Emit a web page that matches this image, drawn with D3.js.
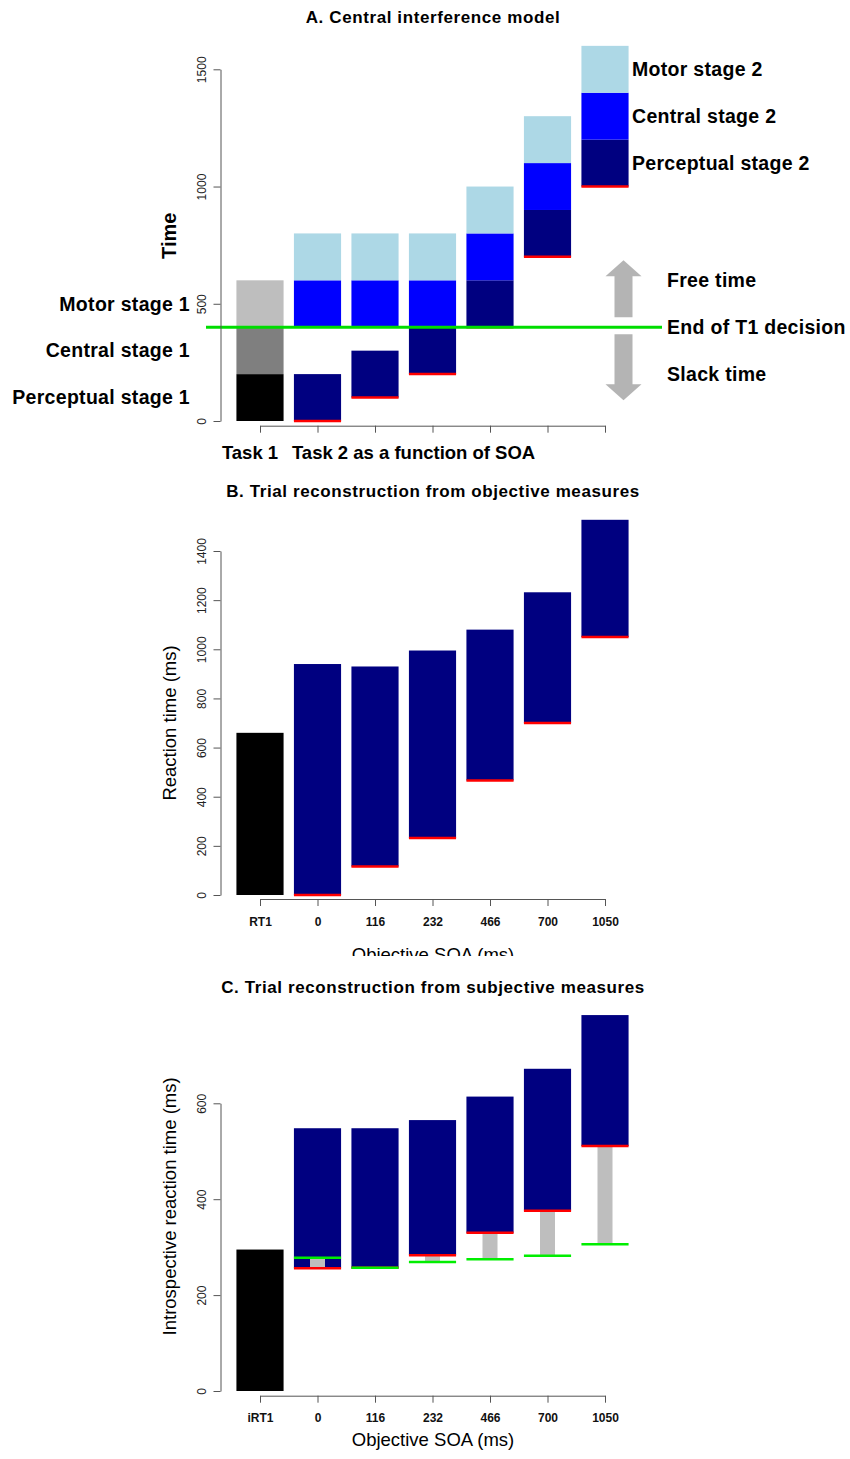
<!DOCTYPE html>
<html>
<head>
<meta charset="utf-8">
<script src="https://cdn.jsdelivr.net/npm/d3@7"></script>
<style>
  body { margin: 0; background: #fff; }
  svg { display: block; font-family: "Liberation Sans", Arial, sans-serif; }
</style>
</head>
<body>
<svg id="fig" width="850" height="1459"></svg>
<script>
// ---- Panel A: central interference model (stage boundaries, ms) ----
const catsA = ["Task 1", "A0", "A100", "A200", "A400", "A700", "A1000"];
const task1Bounds = [0, 200, 400, 600];            // perceptual | central | motor
const task1Colors = ["#000000", "#7f7f7f", "#bebebe"];
const task2Onset = [0, 100, 200, 400, 700, 1000];
const perc2End = [200, 300, 400, 600, 900, 1200];
const central2Start = [400, 400, 400, 600, 900, 1200];
const central2End = [600, 600, 600, 800, 1100, 1400];
const motor2End = [800, 800, 800, 1000, 1300, 1600];
const t1Decision = 400;
const ticksA = [0, 500, 1000, 1500];

// ---- Panel B: objective measures ----
const catsB = ["RT1", "0", "116", "232", "466", "700", "1050"];
const rt1 = 660;
const rt2Start = [0, 116, 232, 466, 700, 1050];
const rt2End = [940, 930, 995, 1080, 1232, 1527];
const ticksB = [0, 200, 400, 600, 800, 1000, 1200, 1400];

// ---- Panel C: subjective measures ----
const catsC = ["iRT1", "0", "116", "232", "466", "700", "1050"];
const irt1 = 295;
const irt2Start = [256, 257, 283, 330, 376, 511];
const irt2End = [548, 548, 565, 614, 672, 784];
const irt1Mark = [278, 257, 269, 275, 282, 306];
const ticksC = [0, 200, 400, 600];

const svg = d3.select("#fig");
const axisX = 220.5;
const axisColor = "#555";
const labelFont = "19.5px";

function bandScale(cats) {
    return d3.scaleBand().domain(cats).range([231.25, 633.75])
        .paddingInner(0.18).paddingOuter(0.09);
}

function drawAxes(x, y, ticks, axisBottomY) {
    const yAxis = svg.append("g")
        .attr("transform", `translate(${axisX},0)`)
        .call(d3.axisLeft(y).tickValues(ticks).tickFormat(d3.format("d"))
            .tickSize(7).tickSizeOuter(0));
    yAxis.select(".domain").attr("stroke", axisColor);
    yAxis.selectAll(".tick line").attr("stroke", axisColor);
    yAxis.selectAll("text")
        .attr("transform", "rotate(-90)")
        .attr("x", 0).attr("y", -15).attr("dy", 0)
        .attr("text-anchor", "middle")
        .style("font-size", "12px").style("fill", "#222");

    const pts = d3.scalePoint().domain(x.domain())
        .range([x(x.domain()[0]) + x.bandwidth() / 2,
                x(x.domain()[x.domain().length - 1]) + x.bandwidth() / 2]);
    const xAxis = svg.append("g")
        .attr("transform", `translate(0,${axisBottomY})`)
        .call(d3.axisBottom(pts).tickSize(7).tickSizeOuter(0));
    xAxis.select(".domain").attr("stroke", axisColor);
    xAxis.selectAll(".tick line").attr("stroke", axisColor);
    return xAxis;
}

function title(txt, yPos) {
    svg.append("text").attr("x", 433).attr("y", yPos)
        .attr("text-anchor", "middle")
        .style("font-size", "17px").style("font-weight", "bold")
        .style("letter-spacing", "0.6px")
        .text(txt);
}

function yLabel(txt, cy, bold, size) {
    svg.append("text")
        .attr("transform", `translate(176,${cy}) rotate(-90)`)
        .attr("text-anchor", "middle")
        .style("font-size", size).style("font-weight", bold ? "bold" : "normal")
        .text(txt);
}

// =================== Panel A ===================
const xA = bandScale(catsA);
const yA = d3.scaleLinear().domain([0, 1500]).range([421, 69.3]);
const bwA = xA.bandwidth();

title("A. Central interference model", 23);

// task 1 stages
svg.append("g").selectAll("rect")
    .data(d3.range(3)).join("rect")
    .attr("x", xA("Task 1")).attr("width", bwA)
    .attr("y", i => yA(task1Bounds[i + 1]))
    .attr("height", i => yA(task1Bounds[i]) - yA(task1Bounds[i + 1]))
    .attr("fill", i => task1Colors[i]);

// task 2 stages
const stagesA = [];
task2Onset.forEach((on, i) => {
    const c = catsA[i + 1];
    stagesA.push({ c, lo: on, hi: perc2End[i], col: "#000080" });
    stagesA.push({ c, lo: central2Start[i], hi: central2End[i], col: "#0000ff" });
    stagesA.push({ c, lo: central2End[i], hi: motor2End[i], col: "#add8e6" });
});
svg.append("g").selectAll("rect")
    .data(stagesA).join("rect")
    .attr("x", d => xA(d.c)).attr("width", bwA)
    .attr("y", d => yA(d.hi))
    .attr("height", d => yA(d.lo) - yA(d.hi))
    .attr("fill", d => d.col);

// onset markers
svg.append("g").selectAll("line")
    .data(task2Onset).join("line")
    .attr("x1", (d, i) => xA(catsA[i + 1])).attr("x2", (d, i) => xA(catsA[i + 1]) + bwA)
    .attr("y1", d => yA(d)).attr("y2", d => yA(d))
    .attr("stroke", "#ff0000").attr("stroke-width", 2.5);

// end of T1 decision
svg.append("line")
    .attr("x1", 206).attr("x2", 662)
    .attr("y1", yA(t1Decision)).attr("y2", yA(t1Decision))
    .attr("stroke", "#00dd00").attr("stroke-width", 3);

const xAxA = drawAxes(xA, yA, ticksA, 425.7);
xAxA.selectAll(".tick text").remove();
yLabel("Time", yA(790), true, "20px");

// x annotations
svg.append("text").attr("x", xA("Task 1") + bwA / 2 - 10).attr("y", 459)
    .attr("text-anchor", "middle")
    .style("font-size", "18.5px").style("font-weight", "bold").text("Task 1");
svg.append("text").attr("x", xA(catsA[1]) - 2).attr("y", 459)
    .style("font-size", "18.5px").style("font-weight", "bold").text("Task 2 as a function of SOA");

// stage labels left (task 1)
const leftLabels = ["Perceptual stage 1", "Central stage 1", "Motor stage 1"];
svg.append("g").selectAll("text")
    .data(leftLabels).join("text")
    .attr("x", 190).attr("y", (d, i) => yA((task1Bounds[i] + task1Bounds[i + 1]) / 2))
    .attr("dy", "0.35em").attr("text-anchor", "end")
    .style("font-size", labelFont).style("font-weight", "bold").style("letter-spacing", "0.3px")
    .text(d => d);

// stage labels right (last task 2 bar)
const last = task2Onset.length - 1;
const rightLabels = [
    { t: "Perceptual stage 2", v: (task2Onset[last] + perc2End[last]) / 2 },
    { t: "Central stage 2", v: (central2Start[last] + central2End[last]) / 2 },
    { t: "Motor stage 2", v: (central2End[last] + motor2End[last]) / 2 }
];
svg.append("g").selectAll("text")
    .data(rightLabels).join("text")
    .attr("x", 632).attr("y", d => yA(d.v)).attr("dy", "0.35em")
    .style("font-size", labelFont).style("font-weight", "bold").style("letter-spacing", "0.3px")
    .text(d => d.t);

// free / slack time arrows
const arrowX = 623.5;
function arrow(tail, tip) {
    const dir = tip > tail ? 1 : -1;   // head base sits below the tip when pointing up
    const yTail = yA(tail), yTip = yA(tip);
    const yBase = yTip + dir * 16;
    const p = [
        [arrowX - 9, yTail], [arrowX - 9, yBase], [arrowX - 18, yBase],
        [arrowX, yTip], [arrowX + 18, yBase], [arrowX + 9, yBase], [arrowX + 9, yTail]
    ];
    svg.append("path").attr("d", d3.line()(p) + "Z").attr("fill", "#b4b4b4");
}
arrow(443, 686);
arrow(370, 89);

const sideLabels = [{ t: "Free time", v: 600 }, { t: "End of T1 decision", v: t1Decision }, { t: "Slack time", v: 200 }];
svg.append("g").selectAll("text")
    .data(sideLabels).join("text")
    .attr("x", 667).attr("y", d => yA(d.v)).attr("dy", "0.35em")
    .style("font-size", labelFont).style("font-weight", "bold").style("letter-spacing", "0.3px")
    .text(d => d.t);

// =================== Panel B ===================
const xB = bandScale(catsB);
const yB = d3.scaleLinear().domain([0, 1400]).range([895, 551]);
const bwB = xB.bandwidth();

title("B. Trial reconstruction from objective measures", 497);

svg.append("rect").attr("x", xB("RT1")).attr("width", bwB)
    .attr("y", yB(rt1)).attr("height", yB(0) - yB(rt1)).attr("fill", "#000");

svg.append("g").selectAll("rect")
    .data(rt2Start).join("rect")
    .attr("x", (d, i) => xB(catsB[i + 1])).attr("width", bwB)
    .attr("y", (d, i) => yB(rt2End[i]))
    .attr("height", (d, i) => yB(d) - yB(rt2End[i]))
    .attr("fill", "#000080");

svg.append("g").selectAll("line")
    .data(rt2Start).join("line")
    .attr("x1", (d, i) => xB(catsB[i + 1])).attr("x2", (d, i) => xB(catsB[i + 1]) + bwB)
    .attr("y1", d => yB(d)).attr("y2", d => yB(d))
    .attr("stroke", "#ff0000").attr("stroke-width", 2.5);

const xAxB = drawAxes(xB, yB, ticksB, 899);
xAxB.selectAll(".tick text").attr("y", 18)
    .style("font-size", "12px").style("font-weight", "bold").style("fill", "#111");
yLabel("Reaction time (ms)", yB(700), false, "18.5px");

svg.append("clipPath").attr("id", "clipB")
    .append("rect").attr("x", 0).attr("y", 930).attr("width", 850).attr("height", 26);
svg.append("text").attr("x", 433).attr("y", 961)
    .attr("text-anchor", "middle").attr("clip-path", "url(#clipB)")
    .style("font-size", "18.5px").text("Objective SOA (ms)");

// =================== Panel C ===================
const xC = bandScale(catsC);
const yC = d3.scaleLinear().domain([0, 600]).range([1391, 1103.3]);
const bwC = xC.bandwidth();

title("C. Trial reconstruction from subjective measures", 993);

svg.append("rect").attr("x", xC("iRT1")).attr("width", bwC)
    .attr("y", yC(irt1)).attr("height", yC(0) - yC(irt1)).attr("fill", "#000");

svg.append("g").selectAll("rect")
    .data(irt2Start).join("rect")
    .attr("x", (d, i) => xC(catsC[i + 1])).attr("width", bwC)
    .attr("y", (d, i) => yC(irt2End[i]))
    .attr("height", (d, i) => yC(d) - yC(irt2End[i]))
    .attr("fill", "#000080");

// gray gap between T1 introspective end and T2 start
const grayW = 15;
svg.append("g").selectAll("rect")
    .data(irt2Start).join("rect")
    .attr("x", (d, i) => xC(catsC[i + 1]) + bwC / 2 - grayW / 2).attr("width", grayW)
    .attr("y", (d, i) => yC(Math.max(d, irt1Mark[i])))
    .attr("height", (d, i) => Math.abs(yC(d) - yC(irt1Mark[i])))
    .attr("fill", "#bebebe");

svg.append("g").selectAll("line")
    .data(irt2Start).join("line")
    .attr("x1", (d, i) => xC(catsC[i + 1])).attr("x2", (d, i) => xC(catsC[i + 1]) + bwC)
    .attr("y1", d => yC(d)).attr("y2", d => yC(d))
    .attr("stroke", "#ff0000").attr("stroke-width", 2.5);

svg.append("g").selectAll("line")
    .data(irt1Mark).join("line")
    .attr("x1", (d, i) => xC(catsC[i + 1])).attr("x2", (d, i) => xC(catsC[i + 1]) + bwC)
    .attr("y1", d => yC(d)).attr("y2", d => yC(d))
    .attr("stroke", "#00ee00").attr("stroke-width", 2.5);

const xAxC = drawAxes(xC, yC, ticksC, 1395.7);
xAxC.selectAll(".tick text").attr("y", 18)
    .style("font-size", "12px").style("font-weight", "bold").style("fill", "#111");
yLabel("Introspective reaction time (ms)", yC(385), false, "18.5px");

svg.append("text").attr("x", 433).attr("y", 1446)
    .attr("text-anchor", "middle")
    .style("font-size", "18.5px").text("Objective SOA (ms)");
</script>
</body>
</html>
